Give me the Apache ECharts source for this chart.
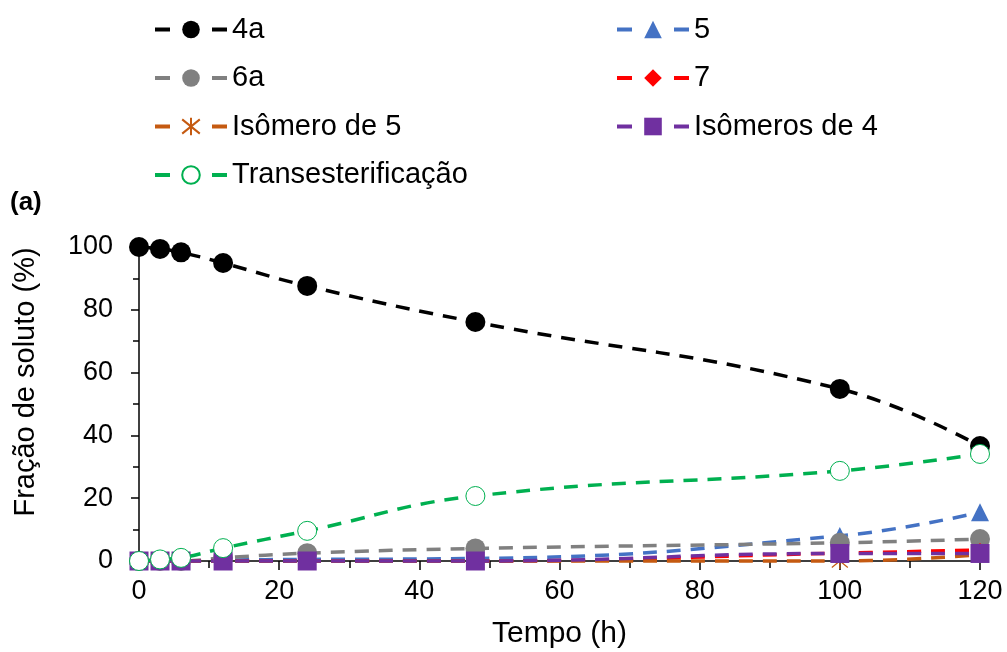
<!DOCTYPE html>
<html>
<head>
<meta charset="utf-8">
<script src="https://cdn.jsdelivr.net/npm/echarts@6/dist/echarts.min.js"></script>
<style>
  html, body { margin: 0; padding: 0; background: #fff; }
  #chart { width: 1007px; height: 652px; }
</style>
</head>
<body>
<div id="chart"></div>
<script>
// Reaction time (h)
const tempo = [0, 3, 6, 12, 24, 48, 100, 120];

// Solute fraction (%) for each species
const s4a    = [100, 99.4, 98.3, 94.9, 87.6, 76.1, 54.8, 36.6];
const s5     = [0, 0, 0, 0.3, 0.5, 0.8, 8, 15.5];
const s6a    = [0, 0, 0, 1, 2.5, 4, 5.8, 7];
const s7     = [0, 0, 0, 0, 0, 0, 2.5, 3.5];
const sIso5  = [0, 0, 0, 0, 0, 0, 0, 2];
const sIso4  = [0, 0, 0, 0, 0, 0, 2.4, 2.4];
const sTrans = [0, 0.5, 1, 4.1, 9.6, 20.7, 28.7, 34.1];

const xTicks = [0, 20, 40, 60, 80, 100, 120];
const yTicks = [0, 20, 40, 60, 80, 100];

const FONT = "'Liberation Sans', Arial, sans-serif";
const asterisk = 'path://M0,0L10,10M10,0L0,10M5,-1.2L5,11.2';

function pairs(ys) { return tempo.map((t, i) => [t, ys[i]]); }

function mkSeries(name, ys, color, symbol, size, extraItem) {
  return {
    name: name,
    type: 'line',
    data: pairs(ys),
    smooth: 0.45,
    clip: false,
    symbol: symbol,
    symbolSize: size,
    color: color,
    lineStyle: { color: color, width: 3.5, type: [14, 10] },
    itemStyle: Object.assign({ color: color }, extraItem || {}),
    emphasis: { disabled: true }
  };
}

const series = [
  mkSeries('4a', s4a, '#000000', 'circle', 20),
  mkSeries('5', s5, '#4472C4', 'triangle', 18),
  mkSeries('6a', s6a, '#808080', 'circle', 20),
  mkSeries('7', s7, '#FF0000', 'diamond', 14),
  mkSeries('Isômero de 5', sIso5, '#C55A11', asterisk, 16,
           { color: 'rgba(0,0,0,0)', borderColor: '#C55A11', borderWidth: 1.2 }),
  mkSeries('Isômeros de 4', sIso4, '#7030A0', 'rect', 19),
  mkSeries('Transesterificação', sTrans, '#00B050', 'circle', 19,
           { color: '#ffffff', borderColor: '#00B050', borderWidth: 1 })
];

const legendBase = {
  orient: 'vertical',
  top: 15,
  padding: 0,
  itemWidth: 72,
  itemHeight: 22,
  itemGap: 19.5,
  selectedMode: false,
  textStyle: { fontSize: 29, lineHeight: 28, color: '#000', fontFamily: FONT },
  lineStyle: { type: [15, 42], width: 4 }
};

const chart = echarts.init(document.getElementById('chart'), null, { renderer: 'canvas' });
chart.setOption({
  animation: false,
  backgroundColor: '#ffffff',
  textStyle: { fontFamily: FONT },
  grid: { left: 139, right: 27, top: 247, bottom: 91, containLabel: false },
  legend: [
    Object.assign({}, legendBase, { left: 153, data: ['4a', '6a', 'Isômero de 5', 'Transesterificação'] }),
    Object.assign({}, legendBase, { left: 615, data: ['5', '7', 'Isômeros de 4'] })
  ],
  xAxis: {
    type: 'value',
    min: xTicks[0],
    max: xTicks[xTicks.length - 1],
    interval: xTicks[1] - xTicks[0],
    name: 'Tempo (h)',
    nameLocation: 'middle',
    nameGap: 58,
    nameTextStyle: { fontSize: 30, color: '#000', fontFamily: FONT },
    axisLine: { lineStyle: { color: '#000', width: 1.5 } },
    axisTick: { show: true, length: 9, lineStyle: { color: '#000', width: 1.5 } },
    minorTick: { show: true, splitNumber: 2, length: 7, lineStyle: { color: '#000', width: 1.5 } },
    splitLine: { show: false },
    axisLabel: { fontSize: 27, color: '#000', margin: 17, fontFamily: FONT }
  },
  yAxis: {
    type: 'value',
    min: yTicks[0],
    max: yTicks[yTicks.length - 1],
    interval: yTicks[1] - yTicks[0],
    axisLine: { show: true, lineStyle: { color: '#000', width: 1.5 } },
    axisTick: { show: true, length: 8, lineStyle: { color: '#000', width: 1.5 } },
    minorTick: { show: true, splitNumber: 2, length: 6, lineStyle: { color: '#000', width: 1.5 } },
    splitLine: { show: false },
    axisLabel: { fontSize: 27, color: '#000', margin: 26, fontFamily: FONT }
  },
  graphic: [
    {
      type: 'text', left: 10, top: 190,
      style: { text: '(a)', font: 'bold 26px ' + FONT, fill: '#000' }
    },
    {
      type: 'text', x: 26, y: 382, rotation: Math.PI / 2,
      style: { text: 'Fração de soluto (%)', font: '29px ' + FONT, fill: '#000',
               align: 'center', verticalAlign: 'middle' }
    }
  ],
  series: series
});
</script>
</body>
</html>
